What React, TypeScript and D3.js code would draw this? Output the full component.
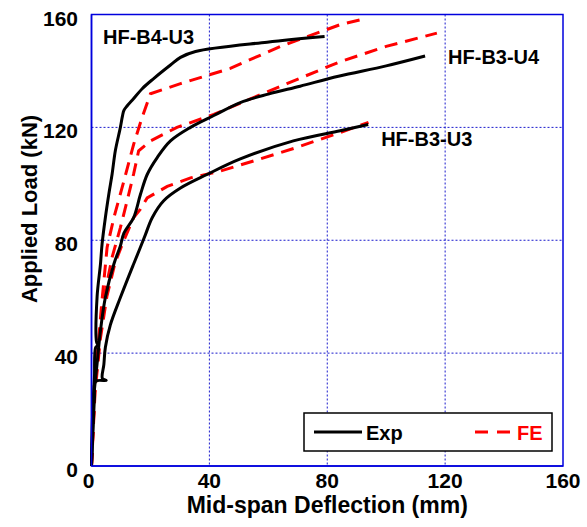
import React from "react";
import * as d3 from "d3";

const xTicks = [0, 40, 80, 120, 160];
const yTicks = [0, 40, 80, 120, 160];

const expB4U3: [number, number][] = [[0,0],[0.2,12.5],[0.6,24],[1.0,31.5],[1.4,42],[2.1,42.8],[1.7,44],[1.9,60],[3.05,71.6],[3.6,78.8],[4.7,88],[5.9,96.5],[7.0,103.5],[8.1,111.8],[9.8,120],[10.5,124],[11.0,126],[12,127.5],[13.8,129.6],[17.2,133.7],[21.1,137.3],[26.8,142.1],[30.2,144.8],[35.3,146.9],[59.6,150.2],[79.1,152.2]];
const expB3U4: [number, number][] = [[0,0],[0.4,13],[0.8,24.5],[1.9,36.3],[3.05,48],[4.7,59.7],[7.6,71.6],[9.8,78],[11,82.5],[14.3,88],[16.6,96.2],[18.9,103.3],[22.3,109.3],[26.8,115.2],[33.6,120],[41.5,124.2],[50.5,128.8],[60,131.8],[70.8,134.6],[83.8,138.1],[100,141.8],[113.2,145.3]];
const expB3U3: [number, number][] = [[0,0],[0.5,12.5],[1.0,24],[1.4,30],[5.0,30.3],[3.7,31],[4.2,36],[4.7,42],[6.4,50],[9.8,59.7],[14.3,71.6],[16.6,77.5],[18.3,82],[20.6,88],[24.5,94],[30.2,98.5],[39.2,103.3],[50.5,108.8],[68.5,115.2],[84.4,118.8],[93.9,121]];

const feB4U3: [number, number][] = [[0,0],[1.0,26],[2.2,42],[3.5,58],[5.3,77.5],[7.6,88],[11,101],[14.3,114],[17.2,123.6],[20,131.9],[30.2,135.5],[47.1,140.9],[64.1,148.7],[84.4,156.4],[92.3,158.4]];
const feB3U4: [number, number][] = [[0,0],[1.1,26],[2.6,44],[4.3,60],[7,74],[9.8,84.5],[12.1,94],[14.3,103.5],[16,111.7],[20,115.2],[29,120],[41.5,124.6],[52.8,129.6],[66.3,135.5],[84.4,143.3],[100,148.7],[117.2,153.4]];
const feB3U3: [number, number][] = [[0,0],[1.2,26],[3,45],[5.2,60],[8,72],[11,80],[14.3,88],[16.6,91],[18.9,95],[25.7,99.1],[33.6,102.1],[43.7,104.5],[55,108.1],[69.7,112.9],[84.4,118.2],[94,121.8]];

const expSeries = [expB4U3, expB3U4, expB3U3];
const feSeries = [feB4U3, feB3U4, feB3U3];

const labels = [
  { text: "HF-B4-U3", x: 3.9, y: 149.6 },
  { text: "HF-B3-U4", x: 121.0, y: 142.5 },
  { text: "HF-B3-U3", x: 98.3, y: 113.3 },
];

const FONT = "'Liberation Sans', Arial, Helvetica, sans-serif";

export default function App() {
  const left = 91.5, right = 563, top = 14.5, bottom = 466;
  const x = d3.scaleLinear().domain([0, 160]).range([left, right]);
  const y = d3.scaleLinear().domain([0, 160]).range([bottom, top]);
  const expLine = d3.line<[number, number]>().x(d => x(d[0])).y(d => y(d[1])).curve(d3.curveCatmullRom.alpha(0.5));
  const feLine = d3.line<[number, number]>().x(d => x(d[0])).y(d => y(d[1]));
  const grid = "#1a1acc";
  return (
    <svg width={587} height={527} style={{ position: "absolute", left: 0, top: 0, background: "#fff" }} fontFamily={FONT} fontWeight="bold">
      {xTicks.slice(1, -1).map(t => (
        <line key={"gx" + t} x1={x(t)} x2={x(t)} y1={top} y2={bottom} stroke={grid} strokeWidth={1} strokeDasharray="2,2" />
      ))}
      {yTicks.slice(1, -1).map(t => (
        <line key={"gy" + t} x1={left} x2={right} y1={y(t)} y2={y(t)} stroke={grid} strokeWidth={1} strokeDasharray="2,2" />
      ))}
      <rect x={left} y={top} width={right - left} height={bottom - top} fill="none" stroke="#0000dd" strokeWidth={1.5} />
      {feSeries.map((s, i) => (
        <path key={"fe" + i} d={feLine(s) || ""} fill="none" stroke="#ff0000" strokeWidth={3} strokeDasharray="13,8" />
      ))}
      {expSeries.map((s, i) => (
        <path key={"ex" + i} d={expLine(s) || ""} fill="none" stroke="#000" strokeWidth={3} strokeLinejoin="round" />
      ))}
      <line x1={left} x2={left} y1={top} y2={bottom} stroke="#0000dd" strokeWidth={1.5} />
      <line x1={left} x2={right} y1={bottom} y2={bottom} stroke="#0000dd" strokeWidth={1.5} />
      {labels.map(l => (
        <text key={l.text} x={x(l.x)} y={y(l.y)} fontSize={20} fill="#000">{l.text}</text>
      ))}
      {xTicks.map(t => (
        <text key={"xt" + t} x={t === 0 ? x(t) - 3 : x(t)} y={488} fontSize={21} textAnchor="middle" fill="#000">{t}</text>
      ))}
      {yTicks.map(t => (
        <text key={"yt" + t} x={78} y={y(t) + 11} fontSize={21} textAnchor="end" fill="#000">{t}</text>
      ))}
      <text x={(left + right) / 2} y={513} fontSize={23} textAnchor="middle" fill="#000">Mid-span Deflection (mm)</text>
      <text transform={`translate(37,209) rotate(-90)`} fontSize={22} textAnchor="middle" fill="#000">Applied Load (kN)</text>
      <rect x={304} y={413} width={248} height={38} fill="#fff" stroke="#000" strokeWidth={1.5} />
      <line x1={314} x2={362} y1={432} y2={432} stroke="#000" strokeWidth={3} />
      <text x={366} y={440} fontSize={20} fill="#000">Exp</text>
      <line x1={475} x2={510} y1={432} y2={432} stroke="#ff0000" strokeWidth={3} strokeDasharray="13,9" />
      <text x={517} y={440} fontSize={20} fill="#ff0000">FE</text>
    </svg>
  );
}
